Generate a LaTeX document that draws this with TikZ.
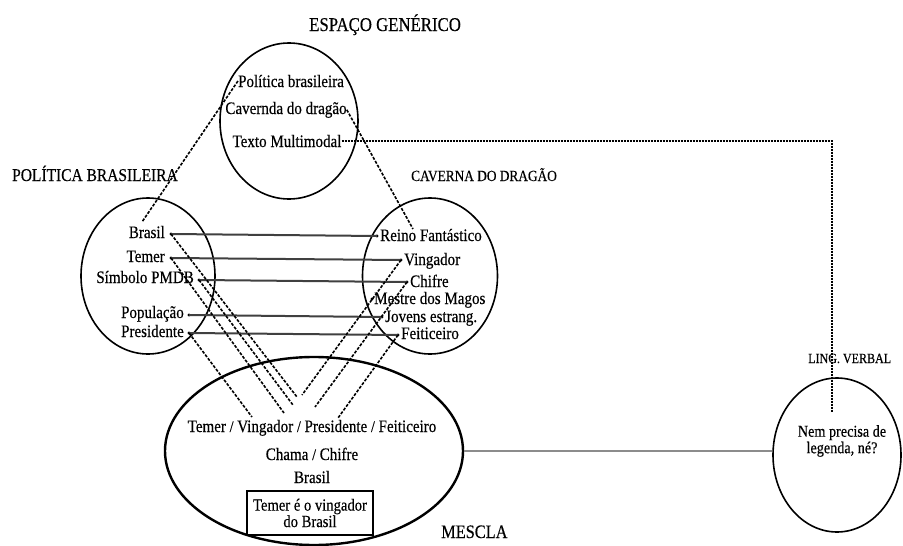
\documentclass[tikz,border=0pt]{standalone}
\usepackage{fontspec}
\setmainfont{Liberation Serif}[FakeStretch=0.86,FakeBold=0.35]
\usetikzlibrary{shapes.geometric}
\newcommand{\myneq}{{\fontsize{16}{16}\selectfont /}}
\tikzset{
 ell/.style={ellipse, draw, line width=1.6pt, inner sep=0pt},
 item/.style={font=\fontsize{17.5}{18}\selectfont, inner sep=0pt},
 head/.style={inner sep=0pt, anchor=base west},
 dot/.style={circle, fill, inner sep=0pt, minimum size=3.4pt},
 link/.style={line width=2pt, black!75},
 dlink/.style={line width=1.6pt, dash pattern=on 3pt off 1.5pt},
 tlink/.style={line width=1.4pt, dash pattern=on 2pt off 1pt},
}
\begin{document}
\begin{tikzpicture}[x=1pt,y=-1pt]
\fill[white] (0,0) rectangle (903,546);
\useasboundingbox (0,0) rectangle (903,546);

% ellipses
\node[ell, minimum width=138, minimum height=156] (gen) at (289,121) {};
\node[ell, minimum width=134, minimum height=156] (pol) at (148,276) {};
\node[ell, minimum width=135, minimum height=156] (cav) at (430,276) {};
\node[ell, line width=2.4pt, minimum width=298, minimum height=188] (blend) at (314,451) {};
\node[ell, minimum width=128, minimum height=154] (ling) at (837,455) {};

% headings
\node[head, font=\fontsize{19.5}{20}\selectfont] (hgen) at (309,31) {ESPAÇO GENÉRICO};
\node[head, font=\fontsize{18}{18}\selectfont] (hpol) at (12,181) {POLÍTICA BRASILEIRA};
\node[head, font=\fontsize{15.5}{16}\selectfont] (hcav) at (411,181) {CAVERNA DO DRAGÃO};
\node[head, font=\fontsize{14}{14}\selectfont] (hling) at (808,363) {LING. VERBAL};
\node[head, font=\fontsize{19}{19}\selectfont] (hmes) at (441,538) {MESCLA};

% generic space items
\node[item, anchor=base] (gPol) at (291,87) {Política brasileira};
\node[item, anchor=base] (gCav) at (286,114) {Cavernda do dragão};
\node[item, anchor=base] (gTex) at (287,147) {Texto Multimodal};

% left items
\node[item, anchor=base east] (tBrasil) at (165,238) {Brasil};
\node[item, anchor=base east] (tTemer) at (165,262) {Temer};
\node[item, anchor=base east] (tPMDB) at (194,283) {Símbolo PMDB};
\node[item, anchor=base east] (tPop) at (184,318) {População};
\node[item, anchor=base east] (tPres) at (184,337) {Presidente};
\node[dot] (dBrasil) at (171,234) {};
\node[dot] (dTemer) at (171,258) {};
\node[dot] (dPMDB) at (199,280) {};
\node[dot] (dPop) at (189,315) {};
\node[dot] (dPres) at (189,333) {};

% right items
\node[item, anchor=base west] (tReino) at (380,241) {Reino Fantástico};
\node[item, anchor=base west] (tVing) at (404,265) {Vingador};
\node[item, anchor=base west] (tChif) at (410,287) {Chifre};
\node[item, anchor=base west] (tMest) at (374,304) {Mestre dos Magos};
\node[item, anchor=base west] (tJov) at (385,322) {Jovens estrang.};
\node[item, anchor=base west] (tFeit) at (401,339) {Feiticeiro};
\node[dot] (dReino) at (377,236) {};
\node[dot] (dVing) at (401,260) {};
\node[dot] (dChif) at (407,282) {};
\node[dot] (dMest) at (372,299) {};
\node[dot] (dJov) at (382,317) {};
\node[dot] (dFeit) at (398,335) {};

% blend contents
\node[item, anchor=base] (m1) at (312,432) {Temer \myneq{} Vingador \myneq{} Presidente \myneq{} Feiticeiro};
\node[item, anchor=base] (m2) at (312,460) {Chama \myneq{} Chifre};
\node[item, anchor=base] (m3) at (312,483) {Brasil};
\node[draw, line width=1.8pt, minimum width=126, minimum height=44, inner sep=1pt, align=center, font=\fontsize{17}{12.5}\selectfont] (box) at (310,513) {Temer é o vingador\\do Brasil};

% ling verbal text
\node[item, align=center, font=\fontsize{16.5}{16.5}\selectfont] (lingtxt) at (842,441) {Nem precisa de\\legenda, né?};

% free ends
\coordinate (cPolEnd) at (142,222);
\coordinate (cCavEnd) at (413,229);
\coordinate (cLing) at (832,412);
\coordinate (cB) at (297,397);
\coordinate (cT) at (284,413);
\coordinate (cP) at (293,405);
\coordinate (cPr) at (252,417);
\coordinate (cV) at (302,395);
\coordinate (cC) at (315,407);
\coordinate (cF) at (338,418);

% generic space links
\draw[dlink] (gPol.west) -- (cPolEnd);
\draw[dlink] (gCav.east) -- (cCavEnd);
\draw[tlink] (gTex.east) -| (cLing);

% horizontal links
\draw[link] (dBrasil.center) -- (dReino.center);
\draw[link] (dTemer.center) -- (dVing.center);
\draw[link] (dPMDB.center) -- (dChif.center);
\draw[link] (dPop.center) -- (dJov.center);
\draw[link] (dPres.center) -- (dFeit.center);

% projections to blend
\draw[dlink] (dBrasil.center) -- (cB);
\draw[dlink] (dTemer.center) -- (cT);
\draw[dlink] (dPMDB.center) -- (cP);
\draw[dlink] (dPres.center) -- (cPr);
\draw[dlink] (dVing.center) -- (cV);
\draw[dlink] (dChif.center) -- (cC);
\draw[dlink] (dFeit.center) -- (cF);

% blend to verbal
\draw[line width=1.1pt, black!45] (blend.east) -- (blend.east -| ling.west);
\end{tikzpicture}
\end{document}
